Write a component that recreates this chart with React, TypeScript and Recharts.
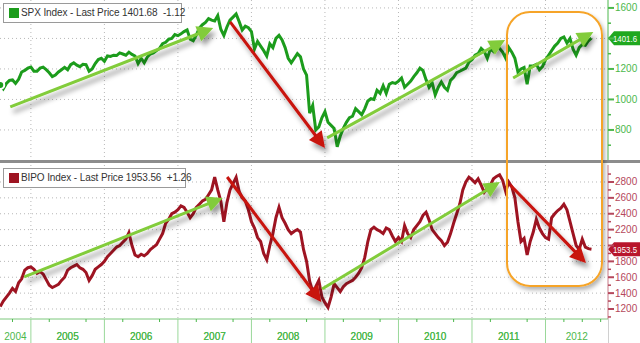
import { LineChart, Line, XAxis, YAxis, CartesianGrid, ReferenceLine } from "recharts"

// semi-monthly closes, index 0 = Jan 1, 1 = Jan 15, 2 = Feb 1 ...
const spx2004 = [1095, 1070, 1105, 1125, 1128, 1105, 1132, 1180, 1190, 1205]
const spx2005 = [1212, 1185, 1185, 1205, 1212, 1195, 1175, 1150, 1160, 1180, 1195, 1210, 1195, 1228, 1240, 1225, 1215, 1230, 1228, 1185, 1200, 1235, 1262, 1270]
const spx2006 = [1250, 1285, 1282, 1290, 1288, 1305, 1298, 1290, 1310, 1295, 1285, 1235, 1270, 1240, 1278, 1298, 1305, 1320, 1335, 1365, 1375, 1395, 1400, 1425]
const spx2007 = [1418, 1430, 1445, 1456, 1395, 1385, 1422, 1468, 1490, 1505, 1530, 1520, 1515, 1550, 1460, 1420, 1475, 1520, 1540, 1560, 1510, 1455, 1480, 1470]
const spx2008 = [1445, 1330, 1380, 1350, 1320, 1285, 1365, 1340, 1400, 1420, 1390, 1340, 1270, 1240, 1270, 1300, 1280, 1200, 1160, 910, 960, 800, 820, 880]
const spx2009 = [920, 850, 830, 810, 690, 760, 810, 850, 880, 890, 940, 920, 900, 940, 990, 1005, 1000, 1060, 1040, 1090, 1040, 1100, 1110, 1105]
const spx2010 = [1120, 1140, 1080, 1100, 1120, 1150, 1175, 1205, 1190, 1130, 1080, 1110, 1030, 1080, 1115, 1080, 1060, 1125, 1145, 1175, 1185, 1195, 1205, 1245]
const spx2011 = [1260, 1290, 1300, 1335, 1315, 1270, 1330, 1315, 1360, 1335, 1310, 1270, 1340, 1310, 1270, 1180, 1200, 1210, 1100, 1220, 1220, 1230, 1195, 1215]
const spx2012 = [1260, 1290, 1320, 1350, 1370, 1400, 1410, 1370, 1400, 1330, 1290, 1340, 1360, 1355, 1385, 1401.68]

const bipo2004 = [1230, 1300, 1350, 1400, 1460, 1420, 1530, 1580, 1690, 1720]
const bipo2005 = [1730, 1700, 1650, 1670, 1640, 1570, 1500, 1470, 1490, 1510, 1560, 1600, 1690, 1720, 1740, 1760, 1720, 1700, 1660, 1560, 1620, 1700, 1730, 1760]
const bipo2006 = [1800, 1860, 1900, 1940, 1980, 2000, 2040, 2080, 2160, 2000, 1880, 1860, 1890, 1870, 1900, 1950, 1980, 2010, 2080, 2150, 2280, 2330, 2400, 2420]
const bipo2007 = [2450, 2500, 2480, 2420, 2350, 2400, 2480, 2520, 2560, 2580, 2640, 2700, 2860, 2700, 2560, 2300, 2540, 2700, 2780, 2860, 2680, 2600, 2560, 2450]
const bipo2008 = [2300, 2220, 2100, 2050, 1900, 1820, 2000, 2150, 2350, 2480, 2350, 2280, 2200, 2150, 2180, 2200, 2170, 1950, 1800, 1550, 1420, 1480, 1560, 1350]
const bipo2009 = [1280, 1220, 1350, 1520, 1470, 1420, 1480, 1520, 1540, 1560, 1600, 1650, 1720, 1850, 2050, 2200, 2230, 2200, 2180, 2150, 2220, 2200, 2120, 2050]
const bipo2010 = [2100, 2050, 2250, 2150, 2100, 2200, 2250, 2300, 2380, 2420, 2320, 2200, 2150, 2100, 2060, 2000, 2040, 2150, 2280, 2400, 2520, 2700, 2800, 2860]
const bipo2011 = [2830, 2790, 2840, 2760, 2670, 2720, 2760, 2840, 2870, 2890, 2820, 2680, 2800, 2740, 2600, 2300, 2050, 2090, 1880, 2050, 2170, 2330, 2220, 2150]
const bipo2012 = [2100, 2080, 2350, 2400, 2440, 2470, 2520, 2450, 2300, 2150, 2000, 1950, 2080, 1980, 1960, 1953.56]

const years = ["2004", "2005", "2006", "2007", "2008", "2009", "2010", "2011", "2012"]
const spxTicks = [700, 800, 900, 1000, 1100, 1200, 1300, 1400, 1500, 1600]
const bipoTicks = [1100, 1200, 1300, 1400, 1500, 1600, 1700, 1800, 1900, 2000, 2100, 2200, 2300, 2400, 2500, 2600, 2700, 2800, 2900]
const spxHidden = [1400] // covered by the last price flag
const bipoHidden = [2000]

// last price flags as far as they show before the right edge
const spxLast = 1401.68
const bipoLast = 1953.56
const spxFlag = "1401.6"
const bipoFlag = "1953.5"

// trend arrows drawn on the chart: [t1, v1, t2, v2, colour]
const spxArrows: [number, number, number, number, string][] = [
  [2004.72, 951, 2007.48, 1469, "green"],
  [2007.71, 1508, 2009.0, 682, "red"],
  [2009.03, 748, 2011.45, 1390, "green"],
  [2011.56, 1141, 2012.65, 1443, "green"],
]
const bipoArrows: [number, number, number, number, string][] = [
  [2004.91, 1604, 2007.61, 2599, "green"],
  [2007.67, 2863, 2008.95, 1289, "red"],
  [2008.96, 1452, 2011.38, 2800, "green"],
  [2011.52, 2762, 2012.55, 1780, "red"],
]

const T0 = 2004.58
const T1 = 2012.85

const SPX_COLOR = "#1c9c1c"
const BIPO_COLOR = "#9e1422"
const GREEN_TXT = "#4cb84c"
const RED_TXT = "#b5485c"
const ARROW = { green: "#82cc3a", red: "#c8120e" } as Record<string, string>
const FONT = "'Liberation Sans', Arial, sans-serif"

function rows(startYear: number, perYear: number[][], firstIndex: number) {
  const out: { t: number; v: number }[] = []
  perYear.forEach((vals, k) => {
    const off = k === 0 ? firstIndex : 0
    vals.forEach((v, i) => out.push({ t: startYear + k + (i + off) / 24, v }))
  })
  return out
}

const spxData = rows(2004, [spx2004, spx2005, spx2006, spx2007, spx2008, spx2009, spx2010, spx2011, spx2012], 14)
const bipoData = rows(2004, [bipo2004, bipo2005, bipo2006, bipo2007, bipo2008, bipo2009, bipo2010, bipo2011, bipo2012], 14)

const yearStarts = [2005, 2006, 2007, 2008, 2009, 2010, 2011, 2012]
const quarterTicks: number[] = []
for (let y = 2004; y <= 2012; y++) {
  for (let q = 0; q < 4; q++) {
    const t = y + q / 4
    if (t > T0 && t < T1) quarterTicks.push(t)
  }
}
const labelPos = years.map((y) => {
  const a = Math.max(Number(y), T0)
  const b = Math.min(Number(y) + 1, T1)
  return (a + b) / 2
})
const xTicks = [...quarterTicks, ...labelPos].sort((a, b) => a - b)

const arrowShape = (color: string) => (p: any) => {
  const { x1, y1, x2, y2 } = p
  const dx = x2 - x1
  const dy = y2 - y1
  const len = Math.hypot(dx, dy)
  const ux = dx / len
  const uy = dy / len
  const hl = 16
  const hw = 8
  const bx = x2 - ux * hl
  const by = y2 - uy * hl
  const pts = `${x2},${y2} ${bx - uy * hw},${by + ux * hw} ${bx + uy * hw},${by - ux * hw}`
  return (
    <g filter="url(#arrowShadow)">
      <line x1={x1} y1={y1} x2={bx + ux * 2} y2={by + uy * 2} stroke={color} strokeWidth={3} />
      <polygon points={pts} fill={color} />
    </g>
  )
}

const flagShape = (label: string, color: string) => (p: any) => {
  const x = Math.max(p.x1, p.x2)
  const y = p.y1
  return (
    <g>
      <polygon points={`${x},${y} ${x + 6},${y - 7} ${640},${y - 7} ${640},${y + 7} ${x + 6},${y + 7}`} fill={color} />
      <text
        x={x + 5}
        y={y + 3.5}
        fill="#fff"
        fontSize={9}
        fontFamily={FONT}
        textLength={24}
        lengthAdjust="spacingAndGlyphs"
      >
        {label}
      </text>
    </g>
  )
}

const yTick = (color: string, hidden: number[]) => (p: any) => {
  const { x, y, payload } = p
  const v = payload.value
  if (v % 200 !== 0) {
    return <line x1={x} x2={x + 3} y1={y} y2={y} stroke={color} strokeWidth={1.5} />
  }
  return (
    <g>
      <line x1={x} x2={x + 6} y1={y} y2={y} stroke={color} strokeWidth={2} />
      {hidden.includes(v) ? null : (
        <text x={x + 7} y={y + 3.5} fill={color} fontSize={10} fontFamily={FONT}>{v}</text>
      )}
    </g>
  )
}

const xTick = (p: any) => {
  const { x, y, payload } = p
  const v = payload.value
  const li = labelPos.findIndex((c) => Math.abs(c - v) < 1e-6)
  if (li >= 0) {
    return <text x={x} y={y + 21} textAnchor="middle" fill={GREEN_TXT} fontSize={10} fontFamily={FONT}>{years[li]}</text>
  }
  if (Math.abs(v - Math.round(v)) < 1e-6) {
    return <line x1={x} x2={x} y1={y} y2={y + 24} stroke="#9ad89a" strokeWidth={1} />
  }
  return <line x1={x} x2={x} y1={y} y2={y + 3} stroke={GREEN_TXT} strokeWidth={1} />
}

function LegendBox({ top, color, text, width }: { top: number; color: string; text: string; width: number }) {
  return (
    <div
      style={{
        position: "absolute",
        left: 3,
        top,
        width,
        height: 20,
        border: "1px solid #9a9a9a",
        background: "#fff",
        boxSizing: "border-box",
      }}
    >
      <div style={{ position: "absolute", left: 5, top: 4, width: 10, height: 10, background: color }} />
      <div
        style={{
          position: "absolute",
          left: 17,
          top: 2,
          fontSize: 10,
          fontFamily: FONT,
          color: "#333",
          whiteSpace: "pre",
          lineHeight: "14px",
          letterSpacing: -0.1,
        }}
      >
        {text}
      </div>
    </div>
  )
}

export default function App() {
  return (
    <div style={{ position: "fixed", left: 0, top: 0, width: 640, height: 343, background: "#fff", overflow: "hidden" }}>
      <svg width={0} height={0} style={{ position: "absolute" }}>
        <defs>
          <filter id="arrowShadow" filterUnits="userSpaceOnUse" x={-50} y={-50} width={800} height={500}>
            <feDropShadow dx={3} dy={5} stdDeviation={2.5} floodColor="#000" floodOpacity={0.4} />
          </filter>
        </defs>
      </svg>

      <div style={{ position: "absolute", left: 0, top: 0 }}>
        <LineChart width={640} height={160} data={spxData} margin={{ top: 0, right: 0, left: 0, bottom: 0 }}>
          <CartesianGrid
            stroke="#b8b8b8"
            strokeDasharray="1 3"
            horizontalValues={[800, 1000, 1200, 1400, 1600]}
            verticalValues={yearStarts}
          />
          <XAxis type="number" dataKey="t" domain={[T0, T1]} allowDataOverflow hide ticks={yearStarts} />
          <YAxis
            orientation="right"
            width={32}
            type="number"
            domain={[603, 1652]}
            allowDataOverflow
            ticks={spxTicks}
            interval={0}
            tickSize={0}
            tickMargin={0}
            axisLine={{ stroke: GREEN_TXT }}
            tickLine={false}
            tick={yTick(GREEN_TXT, spxHidden)}
          />
          <Line dataKey="v" stroke={SPX_COLOR} strokeWidth={3} dot={false} isAnimationActive={false} />
          {spxArrows.map((a, i) => (
            <ReferenceLine
              key={i}
              segment={[{ x: a[0], y: a[1] }, { x: a[2], y: a[3] }]}
              ifOverflow="visible"
              shape={arrowShape(ARROW[a[4]])}
            />
          ))}
          <ReferenceLine y={spxLast} ifOverflow="visible" shape={flagShape(spxFlag, "#1fa81f")} />
        </LineChart>
      </div>

      <div style={{ position: "absolute", left: 0, top: 160, width: 640, height: 3, background: "#8c8c8c" }} />

      <div style={{ position: "absolute", left: 0, top: 164 }}>
        <LineChart width={640} height={179} data={bipoData} margin={{ top: 1, right: 0, left: 0, bottom: 0 }}>
          <CartesianGrid
            stroke="#b8b8b8"
            strokeDasharray="1 3"
            horizontalValues={[1200, 1400, 1600, 1800, 2000, 2200, 2400, 2600, 2800]}
            verticalValues={yearStarts}
          />
          <XAxis
            type="number"
            dataKey="t"
            domain={[T0, T1]}
            allowDataOverflow
            height={24}
            ticks={xTicks}
            interval={0}
            tickSize={0}
            tickMargin={0}
            axisLine={{ stroke: "#7cc87c" }}
            tickLine={false}
            tick={xTick}
          />
          <YAxis
            orientation="right"
            width={32}
            type="number"
            domain={[1074, 3014]}
            allowDataOverflow
            ticks={bipoTicks}
            interval={0}
            tickSize={0}
            tickMargin={0}
            axisLine={{ stroke: "#c87a88" }}
            tickLine={false}
            tick={yTick(RED_TXT, bipoHidden)}
          />
          <Line dataKey="v" stroke={BIPO_COLOR} strokeWidth={3} dot={false} isAnimationActive={false} />
          {bipoArrows.map((a, i) => (
            <ReferenceLine
              key={i}
              segment={[{ x: a[0], y: a[1] }, { x: a[2], y: a[3] }]}
              ifOverflow="visible"
              shape={arrowShape(ARROW[a[4]])}
            />
          ))}
          <ReferenceLine y={bipoLast} ifOverflow="visible" shape={flagShape(bipoFlag, "#b8162c")} />
        </LineChart>
      </div>

      <div style={{ position: "absolute", left: 608, top: 319, width: 1, height: 24, background: "#d0d0d0" }} />

      <div
        style={{
          position: "absolute",
          left: 506,
          top: 11,
          width: 97,
          height: 276,
          border: "2.5px solid #f6a428",
          borderRadius: 24,
          boxSizing: "border-box",
          boxShadow: "2px 3px 4px rgba(0,0,0,0.3)",
          pointerEvents: "none",
        }}
      />

      <LegendBox top={3} color={SPX_COLOR} text={"SPX Index - Last Price 1401.68  -1.12"} width={179} />
      <LegendBox top={168} color={BIPO_COLOR} text={"BIPO Index - Last Price 1953.56  +1.26"} width={183} />
    </div>
  )
}
